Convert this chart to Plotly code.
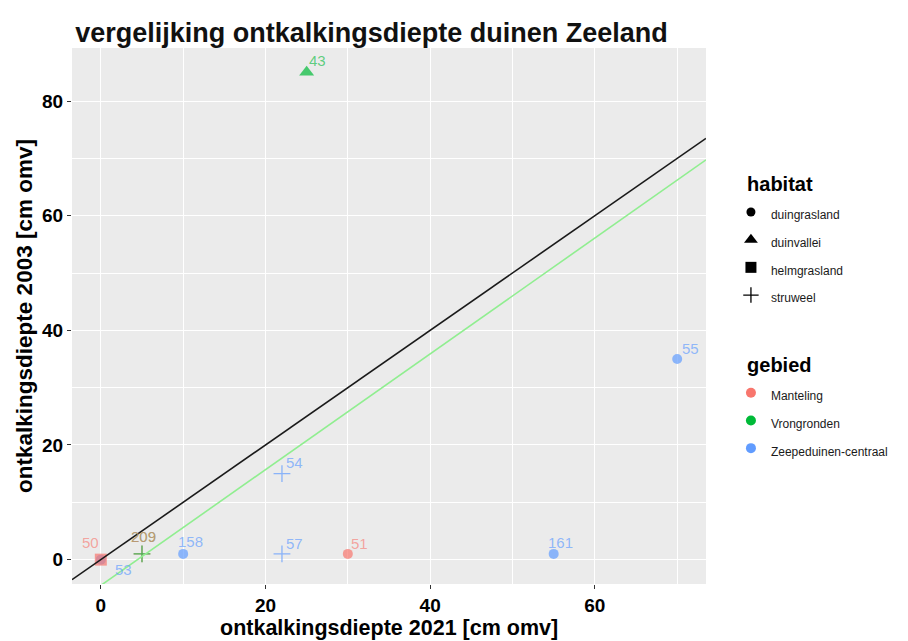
import plotly.graph_objects as go

# Meetpunten: ontkalkingsdiepte 2021 tegen 2003
punt_id = ["53", "50", "209", "209", "158", "57", "54", "51", "43", "161", "55"]
gebied = ["Zeepeduinen-centraal", "Manteling", "Manteling", "Vrongronden",
          "Zeepeduinen-centraal", "Zeepeduinen-centraal", "Zeepeduinen-centraal",
          "Manteling", "Vrongronden", "Zeepeduinen-centraal", "Zeepeduinen-centraal"]
habitat = ["duingrasland", "helmgrasland", "struweel", "struweel", "duingrasland",
           "struweel", "struweel", "duingrasland", "duinvallei", "duingrasland",
           "duingrasland"]
diepte_2021 = [0, 0, 5, 5, 10, 22, 22, 30, 25, 55, 70]
diepte_2003 = [0, 0, 1, 1, 1, 1, 15, 1, 85, 1, 35]

# Referentielijnen: y = x en de lichtgroene lijn
lijn_1op1 = (0.0, 1.0)          # (intercept, helling)
lijn_groen = (-4.5, 1.01)

habitat_klassen = ["duingrasland", "duinvallei", "helmgrasland", "struweel"]
gebied_klassen = ["Manteling", "Vrongronden", "Zeepeduinen-centraal"]

x_ticks = [0, 20, 40, 60]
y_ticks = [0, 20, 40, 60, 80]

x_titel = "ontkalkingsdiepte 2021 [cm omv]"
y_titel = "ontkalkingsdiepte 2003 [cm omv]"
titel = "vergelijking ontkalkingsdiepte duinen Zeeland"

# Stijl
FONT = "Liberation Sans"
kleur = {"Manteling": "#F8766D", "Vrongronden": "#00BA38", "Zeepeduinen-centraal": "#619CFF"}
tekstkleur = {"Manteling": "rgba(248,118,109,0.62)", "Vrongronden": "rgba(0,186,56,0.62)",
              "Zeepeduinen-centraal": "rgba(97,156,255,0.68)"}
symbool = {"duingrasland": "circle", "duinvallei": "triangle-up",
           "helmgrasland": "square", "struweel": "cross-thin"}
grootte = {"duingrasland": 10, "duinvallei": 13, "helmgrasland": 12, "struweel": 12}
rand = {"duingrasland": 0, "duinvallei": 0, "helmgrasland": 0, "struweel": 1.3}
# verschuiving van de labels in pixels (rechts, omhoog)
label_shift = {"53": (23, -10), "50": (-10, 17), "209": (2, 17), "158": (7, 12),
               "57": (13, 10), "54": (13, 11), "51": (12, 10), "43": (11, 12),
               "161": (7, 11), "55": (13, 10)}

x_range = [-3.5, 73.5]
y_range = [-4.25, 89.25]

MARGE_ONDER = 57

fig = go.Figure()

fig.add_trace(go.Scatter(
    x=diepte_2021, y=diepte_2003, mode="markers", showlegend=False, hoverinfo="skip",
    marker=dict(
        color=[kleur[g] for g in gebied],
        symbol=[symbool[h] for h in habitat],
        size=[grootte[h] for h in habitat],
        line=dict(color=[kleur[g] for g in gebied], width=[rand[h] for h in habitat]),
    ),
))

for (a, b), c in ((lijn_1op1, "#1a1a1a"), (lijn_groen, "#90EE90")):
    fig.add_trace(go.Scatter(
        x=x_range, y=[a + b * x_range[0], a + b * x_range[1]], mode="lines",
        line=dict(color=c, width=1.6), showlegend=False, hoverinfo="skip",
    ))

for pid, g, x, y in reversed(list(zip(punt_id, gebied, diepte_2021, diepte_2003))):
    dx, dy = label_shift[pid]
    fig.add_annotation(x=x, y=y, text=pid, showarrow=False, xshift=dx, yshift=dy,
                       font=dict(family=FONT, size=15, color=tekstkleur[g]))

# x-as titel onderaan, onder de ticklabels
fig.add_annotation(x=0.5, y=0, xref="paper", yref="paper", xanchor="center", yanchor="bottom",
                   yshift=-MARGE_ONDER, text=x_titel, showarrow=False, borderpad=0,
                   font=dict(family=FONT, size=21.5, weight="bold", color="black"))

# Legenda
def legend_name(t):
    return '<span style="font-size:12px">' + t + "</span>"

def group_title(t):
    return dict(text="&nbsp;&nbsp;" + t,
                font=dict(family=FONT, size=20, weight="bold", color="black"))

for i, h in enumerate(habitat_klassen):
    fig.add_trace(go.Scatter(
        x=[None], y=[None], mode="markers", name=legend_name(h),
        legendgroup="habitat",
        legendgrouptitle=group_title("habitat") if i == 0 else None,
        marker=dict(color="black", symbol=symbool[h], size=grootte[h] - 1,
                    line=dict(color="black", width=rand[h])),
    ))
for i, g in enumerate(gebied_klassen):
    fig.add_trace(go.Scatter(
        x=[None], y=[None], mode="markers", name=legend_name(g),
        legendgroup="gebied",
        legendgrouptitle=group_title("gebied") if i == 0 else None,
        marker=dict(color=kleur[g], symbol="circle", size=10),
    ))

as_stijl = dict(
    showgrid=True, gridcolor="white", gridwidth=1.2, zeroline=False, showline=False,
    ticks="outside", ticklen=4, tickwidth=1, tickcolor="#333333", automargin=True,
    tickfont=dict(family=FONT, size=19, weight="bold", color="black"),
    minor=dict(dtick=10, showgrid=True, gridcolor="white", gridwidth=0.6, ticks=""),
)

fig.update_xaxes(range=x_range, tickvals=x_ticks, tick0=0, dtick=20, **as_stijl)
fig.update_yaxes(range=y_range, tickvals=y_ticks, tick0=0, dtick=20,
                 title=dict(text=y_titel, standoff=3,
                            font=dict(family=FONT, size=22.5, weight="bold", color="black")),
                 **as_stijl)

fig.update_layout(
    width=908, height=641,
    margin=dict(l=72, r=202, t=48, b=MARGE_ONDER, autoexpand=False),
    paper_bgcolor="white", plot_bgcolor="#EBEBEB",
    title=dict(text=titel,
               x=0.005, xref="paper", xanchor="left", y=1 - 33 / 641, yref="container",
               yanchor="middle", font=dict(family=FONT, size=27, weight="bold", color="#111")),
    legend=dict(x=0.805, xref="container", xanchor="left", y=0.744, yref="container",
                yanchor="top", traceorder="grouped",
                tracegroupgap=41, itemwidth=30, bgcolor="rgba(0,0,0,0)",
                font=dict(family=FONT, size=19, color="#1a1a1a")),
    font=dict(family=FONT),
)

fig.write_html("out.html")
